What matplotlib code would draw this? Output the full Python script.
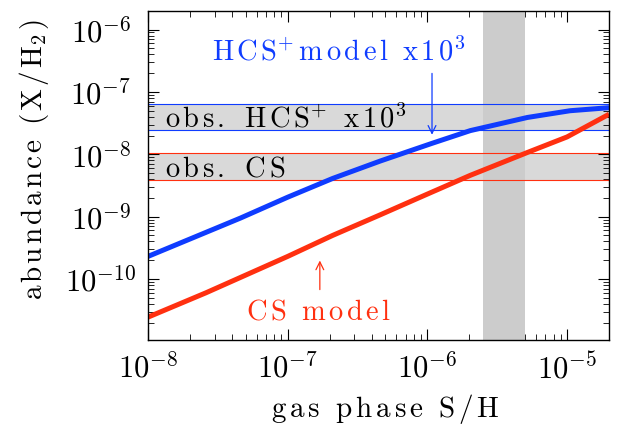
import numpy as np
import matplotlib
matplotlib.use("Agg")
import matplotlib.pyplot as plt
from matplotlib.ticker import FuncFormatter

plt.rcParams["font.family"] = ["cmr10", "DejaVu Serif"]
plt.rcParams["mathtext.fontset"] = "cm"
plt.rcParams["axes.formatter.use_mathtext"] = True

# model curves
hcs_x = [1e-8, 4.6e-8, 1e-7, 2.1e-7, 4.6e-7, 1.08e-6, 2.03e-6, 5.2e-6, 1.05e-5, 2e-5]
hcs_y = [2.3e-10, 9.5e-10, 2.05e-9, 4.1e-9, 7.8e-9, 1.5e-8, 2.4e-8, 3.9e-8, 5.0e-8, 5.6e-8]
cs_x = [1e-8, 2.6e-8, 1e-7, 2.1e-7, 4.6e-7, 1e-6, 2.03e-6, 5.2e-6, 1e-5, 2e-5]
cs_y = [2.44e-11, 6.0e-11, 2.3e-10, 5.0e-10, 1.07e-9, 2.3e-9, 4.6e-9, 1.07e-8, 1.9e-8, 4.4e-8]

# observed ranges
obs_hcs = [2.45e-8, 6.3e-8]
obs_cs = [3.9e-9, 1.05e-8]
sh_range = [2.5e-6, 5e-6]

y_ticks = [1e-10, 1e-9, 1e-8, 1e-7, 1e-6]
x_ticks = [1e-8, 1e-7, 1e-6, 1e-5]

blue = "#0f3cff"
red = "#ff3010"


def tr(s, gap):
    # letter-spaced roman text for mathtext
    pieces = [r"\ " if c == " " else r"\mathrm{%s}" % c for c in s]
    return (r"\hspace{%.2f}" % gap).join(pieces)


def hs(gap):
    return r"\hspace{%.2f}" % gap


g_x = 0.15
g_y = 0.12
g_tx = 0.14
xlab = "$" + tr("gas phase S/H", g_x) + "$"
ylab = "$" + tr("abundance (X/H", g_y) + r"_{\mathrm{2}}" + hs(g_y) + r"\mathrm{)}$"
obs_hcs_lab = ("$" + tr("obs. HCS", g_tx) + r"^{+}" + hs(g_tx) + r"\ " + hs(g_tx)
               + tr("x10", g_tx) + r"^{\mathrm{3}}$")
obs_cs_lab = "$" + tr("obs. CS", g_tx) + "$"
hcs_lab = ("$" + tr("HCS", g_tx) + r"^{+}" + hs(g_tx) + tr("model x10", g_tx)
           + r"^{\mathrm{3}}$")
cs_lab = "$" + tr("CS model", g_tx) + "$"

fig = plt.figure(figsize=(6.19, 4.28), dpi=100)
ax = fig.add_axes([0.239, 0.2056, 0.745, 0.769])
ax.set_xscale("log")
ax.set_yscale("log")
ax.set_xlim(1e-8, 2e-5)
ax.set_ylim(1.05e-11, 2e-6)

ax.axhspan(obs_hcs[0], obs_hcs[1], color="0.85", lw=0, zorder=1)
ax.axhspan(obs_cs[0], obs_cs[1], color="0.85", lw=0, zorder=1)
ax.axvspan(sh_range[0], sh_range[1], color="0.8", lw=0, zorder=2)
for v in obs_hcs:
    ax.axhline(v, color=blue, lw=0.8, zorder=3)
for v in obs_cs:
    ax.axhline(v, color=red, lw=0.8, zorder=3)

ax.plot(hcs_x, hcs_y, color=blue, lw=3.6, zorder=4, solid_capstyle="butt")
ax.plot(cs_x, cs_y, color=red, lw=3.6, zorder=4, solid_capstyle="butt")

ax.text(1.32e-8, 2.65e-8, obs_hcs_lab, fontsize=20.5, zorder=5)
ax.text(1.32e-8, 4.4e-9, obs_cs_lab, fontsize=20.5, zorder=5)
ax.text(2.87e-8, 3.2e-7, hcs_lab, fontsize=20.5, color=blue, zorder=5)
ax.text(1.65e-7, 2.24e-11, cs_lab, fontsize=20.5, color=red, ha="center", zorder=5)

ax.annotate("", xy=(1.08e-6, 1.86e-8), xytext=(1.08e-6, 2.2e-7),
            arrowprops=dict(arrowstyle="->", color=blue, lw=0.9,
                            mutation_scale=14), zorder=5)
ax.annotate("", xy=(1.7e-7, 2.19e-10), xytext=(1.7e-7, 6.1e-11),
            arrowprops=dict(arrowstyle="->", color=red, lw=0.9,
                            mutation_scale=14), zorder=5)

fmt = FuncFormatter(lambda v, p: r"$\mathrm{10}^{%d}$" % round(np.log10(v)))
ax.set_xticks(x_ticks)
ax.set_yticks(y_ticks)
ax.xaxis.set_major_formatter(fmt)
ax.yaxis.set_major_formatter(fmt)
ax.tick_params(which="both", direction="in", top=True, right=True, labelsize=22)
ax.tick_params(which="major", length=8, width=0.8)
ax.tick_params(which="minor", length=4, width=0.6)
ax.tick_params(axis="x", pad=9)
ax.tick_params(axis="y", pad=34)
for lab in ax.get_yticklabels():
    lab.set_horizontalalignment("center")
for s in ax.spines.values():
    s.set_linewidth(1.0)
    s.set_zorder(6)

ax.set_xlabel(xlab, fontsize=21)
ax.set_ylabel(ylab, fontsize=21)
ax.xaxis.label.set_va("baseline")
ax.xaxis.set_label_coords(0.514, -0.234)
ax.yaxis.label.set_va("center")
ax.yaxis.set_label_coords(-0.247, 0.547)

fig.savefig("out.png", dpi=100)
